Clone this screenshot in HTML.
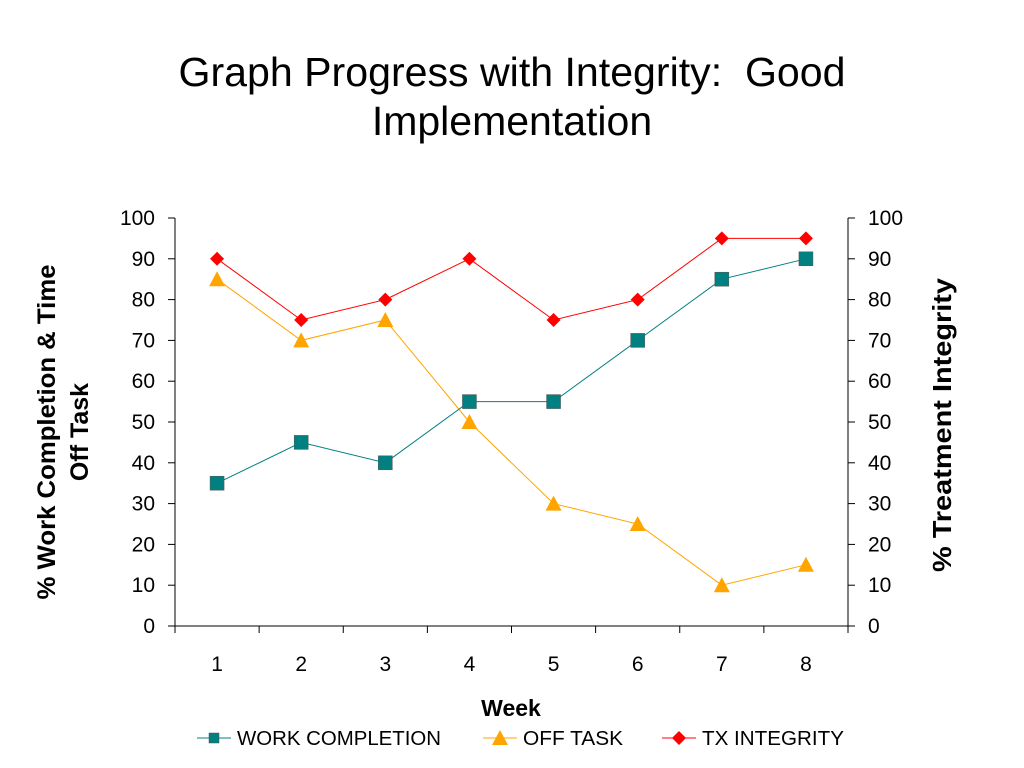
<!DOCTYPE html>
<html><head><meta charset="utf-8">
<style>
html,body{margin:0;padding:0;background:#fff;}
svg{display:block;font-family:"Liberation Sans",Arial,sans-serif;}
</style></head>
<body>
<svg id="chart" width="1024" height="768" viewBox="0 0 1024 768" xmlns="http://www.w3.org/2000/svg">
<text x="512" y="86" font-size="41" text-anchor="middle" textLength="667" lengthAdjust="spacingAndGlyphs">Graph Progress with Integrity:&#160; Good</text>
<text x="512" y="135" font-size="41" text-anchor="middle">Implementation</text>
<g id="axes"></g>
<g id="series"></g>
<text transform="translate(55,432) rotate(-90)" font-size="25" font-weight="bold" text-anchor="middle" textLength="335" lengthAdjust="spacingAndGlyphs">% Work Completion &amp; Time</text>
<text transform="translate(88,432) rotate(-90)" font-size="25" font-weight="bold" text-anchor="middle">Off Task</text>
<text transform="translate(951,425) rotate(-90)" font-size="26" font-weight="bold" text-anchor="middle" textLength="294" lengthAdjust="spacingAndGlyphs">% Treatment Integrity</text>
<text x="511" y="716" font-size="23" font-weight="bold" text-anchor="middle">Week</text>
<g id="legend"></g>
</svg>
<script>
const categories = [1,2,3,4,5,6,7,8];
const workCompletion = [35,45,40,55,55,70,85,90];
const offTask = [85,70,75,50,30,25,10,15];
const txIntegrity = [90,75,80,90,75,80,95,95];
const yTicks = [0,10,20,30,40,50,60,70,80,90,100];

const NS = "http://www.w3.org/2000/svg";
const X0 = 175, X1 = 848, Y0 = 626, Y1 = 218;
const band = (X1 - X0) / categories.length;
function xScale(i){ return X0 + band * (i + 0.5); }
function yScale(v){ return Y0 - (v / 100) * (Y0 - Y1); }
function mk(tag, attrs, parent){
  const e = document.createElementNS(NS, tag);
  for (const k in attrs) e.setAttribute(k, attrs[k]);
  parent.appendChild(e); return e;
}
const axes = document.getElementById('axes');
const stroke = {stroke:'#000','stroke-width':1};
let l = mk('line', Object.assign({x1:X0,y1:Y1,x2:X0,y2:Y0}, stroke), axes);


l = mk('line', Object.assign({x1:X1,y1:Y1,x2:X1,y2:Y0}, stroke), axes);


l = mk('line', Object.assign({x1:X0,y1:Y0,x2:X1,y2:Y0}, stroke), axes);


yTicks.forEach(v => {
  const y = yScale(v);
  mk('line', Object.assign({x1:X0-7,y1:y,x2:X0,y2:y}, stroke), axes);
  mk('line', Object.assign({x1:X1,y1:y,x2:X1+7,y2:y}, stroke), axes);
  const t1 = mk('text', {x:X0-20, y:y+7, 'font-size':21, 'text-anchor':'end'}, axes);
  t1.textContent = v;
  
  
  const t2 = mk('text', {x:X1+20, y:y+7, 'font-size':21, 'text-anchor':'start'}, axes);
  t2.textContent = v;
  
  
});
for (let i = 0; i <= categories.length; i++) {
  const x = X0 + band * i;
  mk('line', Object.assign({x1:x,y1:Y0,x2:x,y2:Y0+7}, stroke), axes);
}
categories.forEach((c, i) => {
  const t = mk('text', {x:xScale(i), y:671, 'font-size':21, 'text-anchor':'middle'}, axes);
  t.textContent = c;
  
  
});

function marker(shape, x, y, color, parent){
  let e;
  if (shape === 'square') e = mk('rect', {x:x-7, y:y-7, width:14, height:14, fill:color, stroke:'#555', 'stroke-width':0.5}, parent);
  else if (shape === 'triangle') e = mk('polygon', {points:`${x},${y-8} ${x+8},${y+7} ${x-8},${y+7}`, fill:color}, parent);
  else e = mk('polygon', {points:`${x},${y-7} ${x+7},${y} ${x},${y+7} ${x-7},${y}`, fill:color}, parent);
  return e;
}
const seriesG = document.getElementById('series');
const seriesDefs = [
  {name:'off-task', data:offTask, color:'#FFA500', shape:'triangle'},
  {name:'work-completion', data:workCompletion, color:'#008080', shape:'square'},
  {name:'tx-integrity', data:txIntegrity, color:'#FF0000', shape:'diamond'}
];
seriesDefs.forEach(s => {
  const g = mk('g', {}, seriesG);
  
  
  const pts = s.data.map((v, i) => xScale(i) + ',' + yScale(v)).join(' ');
  const pl = mk('polyline', {points:pts, fill:'none', stroke:s.color, 'stroke-width':1}, g);
  
  
  s.data.forEach((v, i) => {
    const m = marker(s.shape, xScale(i), yScale(v), s.color, g);
    
    
  });
});

const legend = document.getElementById('legend');
const legendItems = [
  {label:'WORK COMPLETION', color:'#008080', shape:'square', x:197, w:204},
  {label:'OFF TASK', color:'#FFA500', shape:'triangle', x:483, w:100},
  {label:'TX INTEGRITY', color:'#FF0000', shape:'diamond', x:662, w:142}
];
legendItems.forEach(it => {
  const g = mk('g', {}, legend);
  
  
  mk('line', {x1:it.x, y1:738, x2:it.x+34, y2:738, stroke:it.color, 'stroke-width':1}, g);
  const m = marker(it.shape, it.x+17, 738, it.color, g);
  if (it.shape === 'square') { m.setAttribute('x', it.x+12); m.setAttribute('y', 733); m.setAttribute('width', 10); m.setAttribute('height', 10); }
  const t = mk('text', {x:it.x+40, y:745, 'font-size':20, textLength:it.w, lengthAdjust:'spacingAndGlyphs'}, g);
  t.textContent = it.label;
});
</script>
</body></html>
